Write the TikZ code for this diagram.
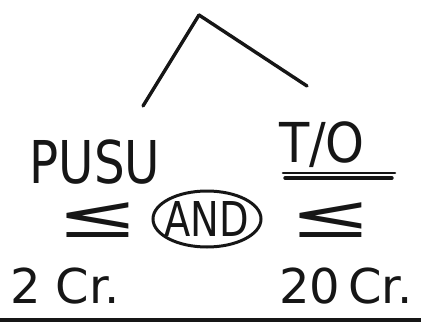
\documentclass[tikz,border=0pt]{standalone}
\usepackage{fontspec}
\setsansfont{DejaVu Sans}
\usetikzlibrary{shapes.geometric}
\definecolor{ink}{HTML}{161616}

\begin{document}
\begin{tikzpicture}[x=1pt,y=-1pt,
  pen/.style={draw=ink,line width=3.4pt,line cap=round},
  word/.style={text=ink,inner sep=0pt,anchor=base,font=\sffamily\fontsize{#1}{#1}\selectfont},
  gate/.style={ellipse,draw=ink,line width=3pt,minimum width=108pt,minimum height=56pt,inner sep=-12pt,text=ink,font=\sffamily\fontsize{48}{48}\selectfont},
]
  \useasboundingbox (0,0) rectangle (421,327);
  \coordinate (top) at (199,15);
  \coordinate (lfoot) at (143,106);
  \coordinate (rfoot) at (307,86);
  \node[word=59] (pusu) at (95,183) {\scalebox{0.82}[1]{PUSU}};
  \node[word=55] (to) at (322,162) {\scalebox{0.9}[1]{T/O}};
  \node[word=52] (lleq) at (98,237) {\scalebox{1.9}[1.15]{≤}};
  \node[gate] (and) at (207,219) {\scalebox{0.8}[1]{AND}};
  \node[word=52] (rleq) at (331,237) {\scalebox{1.9}[1.15]{≤}};
  \node[word=48] (lcap) at (65,303) {2 Cr.};
  \node[word=48] (rcap) at (346,303) {20\,Cr.};
  \draw[pen] (top) -- (lfoot);
  \draw[pen] (top) -- (rfoot);
  \draw[pen,line width=2.6pt] (283,173) -- (395,173);
  \draw[pen] (285,178) -- (392,178);
  \draw[ink,line width=3.5pt] (0,320) -- (421,320);
\end{tikzpicture}
\end{document}
